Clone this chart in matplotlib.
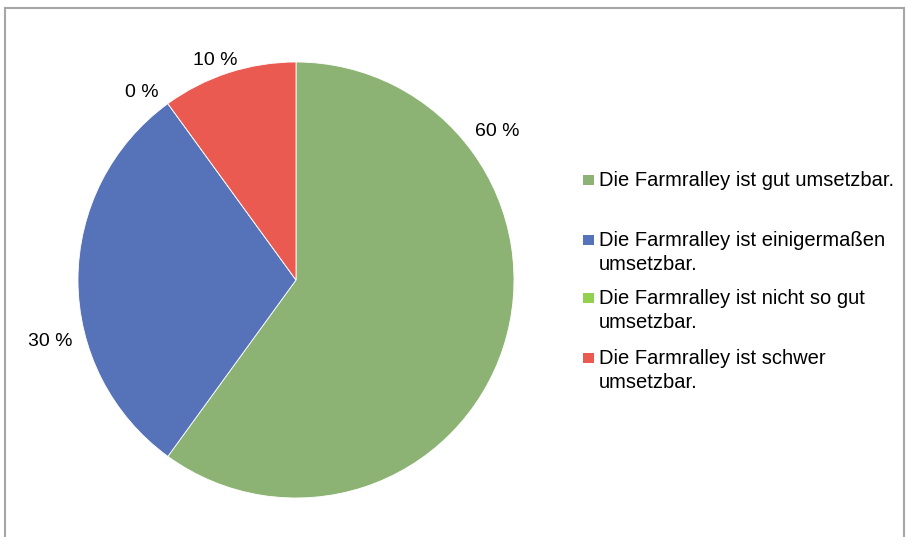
import matplotlib
matplotlib.use("Agg")
import matplotlib.pyplot as plt
from matplotlib.lines import Line2D
from matplotlib.patches import Rectangle

plt.rcParams['font.family'] = ['Liberation Sans', 'DejaVu Sans']

# data
categories = ["Die Farmralley ist gut umsetzbar.",
              "Die Farmralley ist einigermaßen\numsetzbar.",
              "Die Farmralley ist nicht so gut\numsetzbar.",
              "Die Farmralley ist schwer\numsetzbar."]
values = [60, 30, 0, 10]
value_labels = ["60 %", "30 %", "0 %", "10 %"]
colors = ["#8db374", "#5672b8", "#92d050", "#eb5a50"]

# label positions (pie radius units), as placed in the original
label_pos = [(0.922, 0.683), (-1.128, -0.284), (-0.706, 0.862), (-0.372, 1.009)]

W, H = 906, 537
fig = plt.figure(figsize=(W / 100, H / 100), dpi=100)

# pie centred at (296, 280) px, radius 218 px
cx, cy, r = 296, 280, 218
ax = fig.add_axes([(cx - r) / W, (H - cy - r) / H, 2 * r / W, 2 * r / H])
ax.pie(values, colors=colors, startangle=90, counterclock=False, radius=1,
       wedgeprops=dict(edgecolor='white', linewidth=0.6))
ax.set_xlim(-1, 1)
ax.set_ylim(-1, 1)
ax.set_aspect('auto')
ax.axis('off')

for (lx, ly), t in zip(label_pos, value_labels):
    ax.text(lx, ly, t, ha='center', va='center', fontsize=14, clip_on=False)

# legend drawn by hand: equal pitch between entries
leg_y = [180, 240, 298, 358]
fs = 14.5
for y, c, txt in zip(leg_y, colors, categories):
    fig.add_artist(Rectangle((583 / W, (H - y - 5) / H), 10.5 / W, 10.5 / H,
                             transform=fig.transFigure, color=c, lw=0))
    fig.text(599 / W, (H - y + 9) / H, txt, ha='left', va='top',
             fontsize=fs, linespacing=1.3)

# chart border (bottom edge cut off)
bc = '#a6a6a6'
fig.add_artist(Line2D([5 / W, 5 / W], [0, (H - 8) / H], color=bc, lw=1.5,
                      transform=fig.transFigure))
fig.add_artist(Line2D([5 / W, 904 / W], [(H - 8) / H, (H - 8) / H], color=bc, lw=1.5,
                      transform=fig.transFigure))
fig.add_artist(Line2D([904 / W, 904 / W], [0, (H - 8) / H], color=bc, lw=1.5,
                      transform=fig.transFigure))

fig.savefig("out.png", dpi=100)
